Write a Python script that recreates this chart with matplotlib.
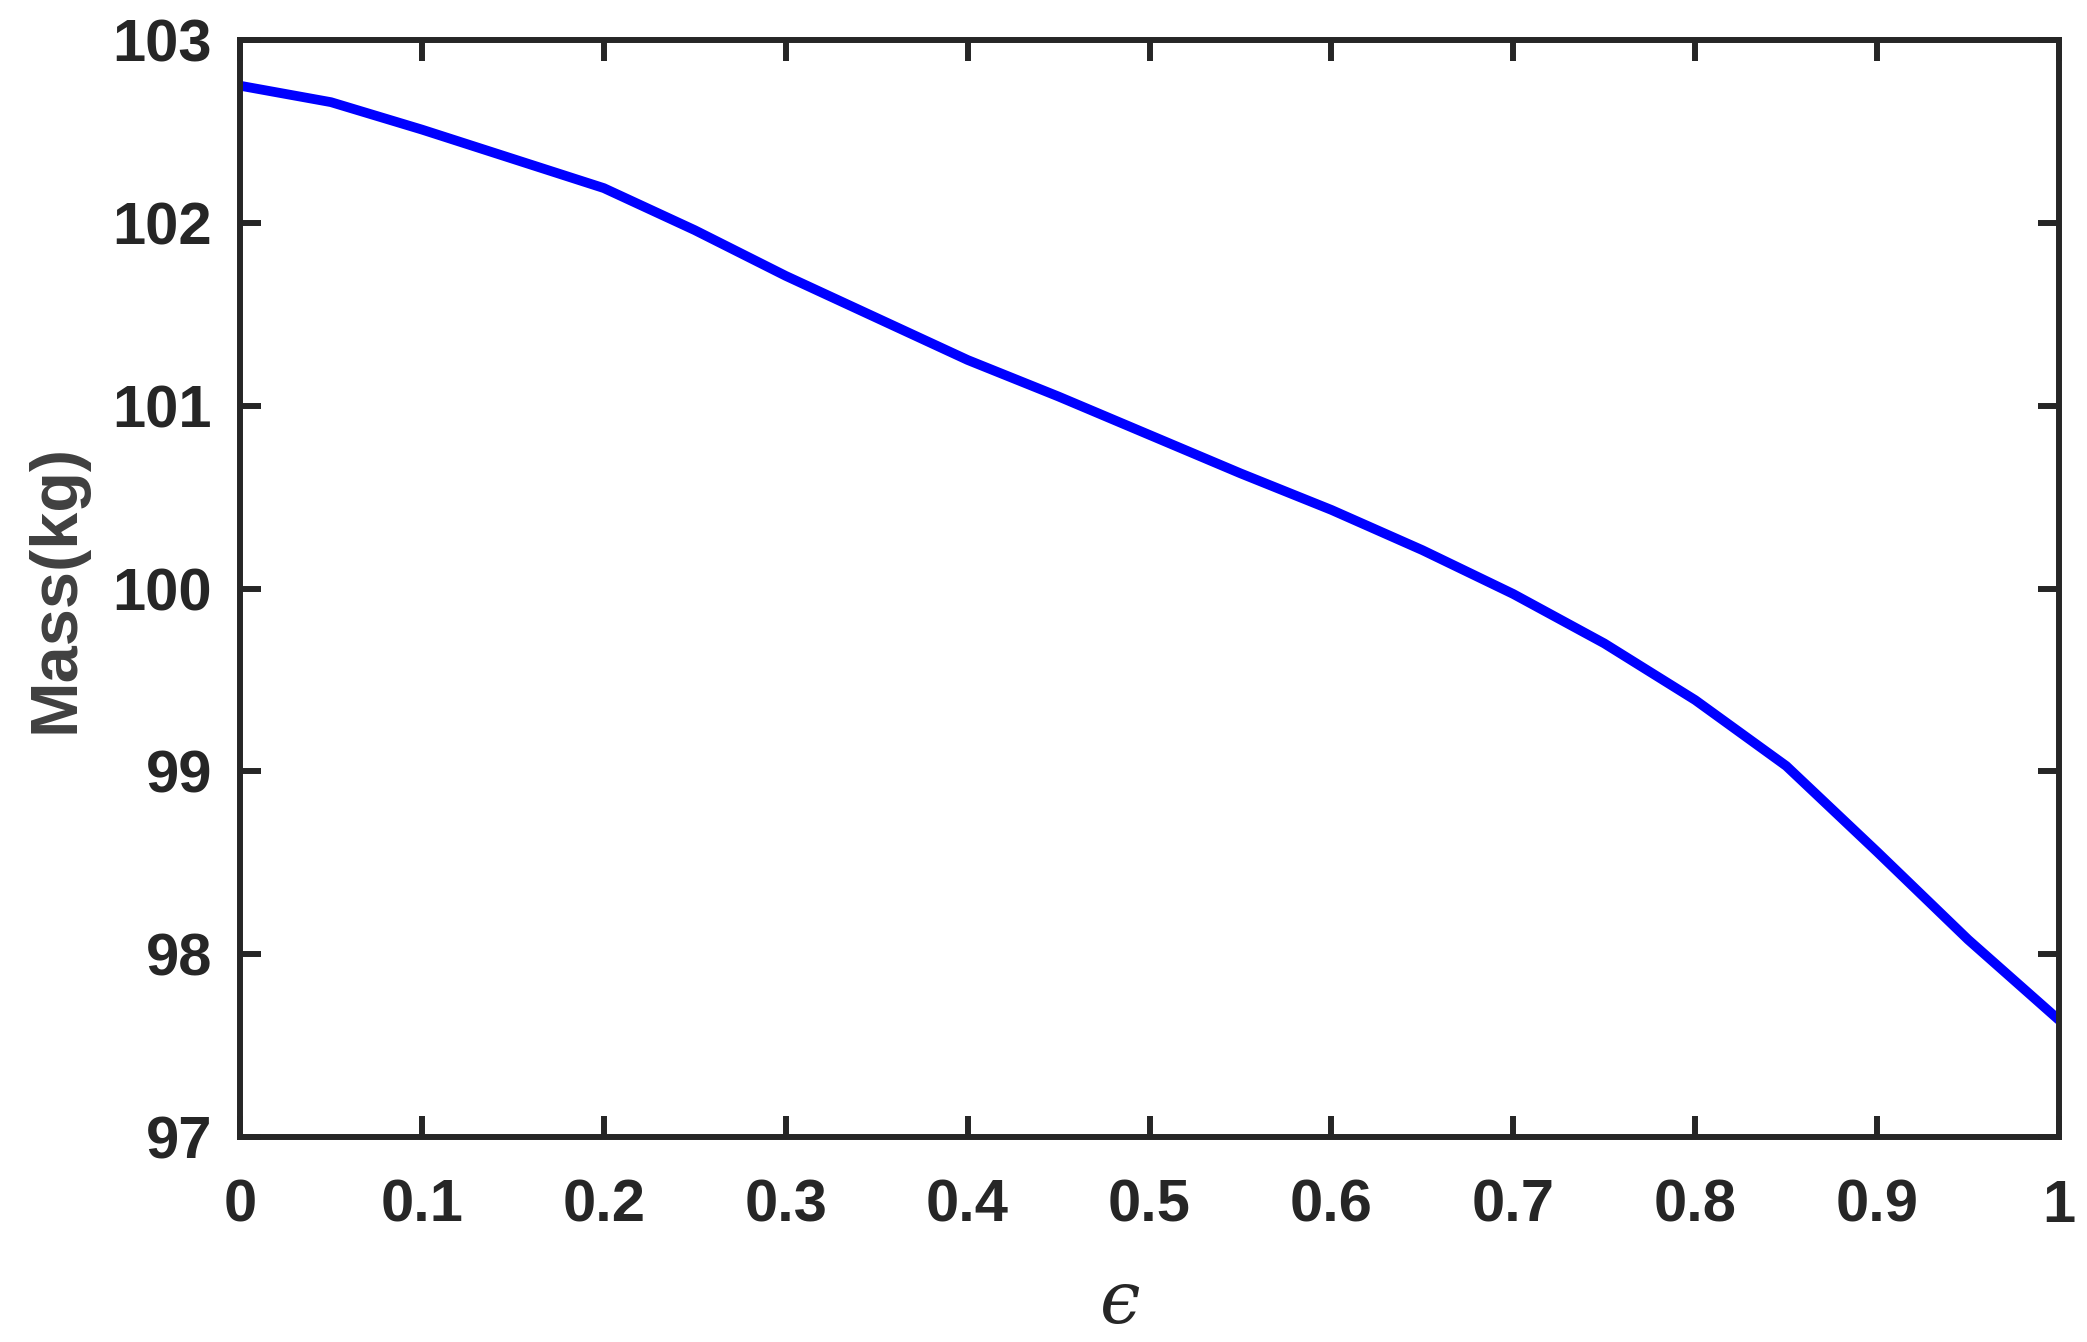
import matplotlib
matplotlib.use("Agg")
import matplotlib.pyplot as plt

# values
epsilon = [0.0, 0.05, 0.1, 0.15, 0.2, 0.25, 0.3, 0.35, 0.4, 0.45, 0.5,
           0.55, 0.6, 0.65, 0.7, 0.75, 0.8, 0.85, 0.9, 0.95, 1.0]
mass = [102.75, 102.66, 102.51, 102.35, 102.19, 101.96, 101.71, 101.48,
        101.25, 101.05, 100.84, 100.63, 100.43, 100.21, 99.97, 99.70,
        99.39, 99.03, 98.56, 98.08, 97.64]
x_ticks = [0, 0.1, 0.2, 0.3, 0.4, 0.5, 0.6, 0.7, 0.8, 0.9, 1]
x_tick_labels = ["0", "0.1", "0.2", "0.3", "0.4", "0.5", "0.6", "0.7", "0.8", "0.9", "1"]
y_ticks = [97, 98, 99, 100, 101, 102, 103]

plt.rcParams['font.family'] = ['Liberation Sans', 'DejaVu Sans']

fig = plt.figure(figsize=(20.87, 13.42), dpi=100)
ax = fig.add_axes([0.115, 0.1527, 0.8716, 0.8175])

ax.plot(epsilon, mass, color='#0000ff', linewidth=7, solid_capstyle='butt')

ax.set_xlim(0, 1)
ax.set_ylim(97, 103)
ax.set_xticks(x_ticks)
ax.set_xticklabels(x_tick_labels)
ax.set_yticks(y_ticks)

for s in ax.spines.values():
    s.set_linewidth(4.3)
    s.set_color('#262626')
ax.tick_params(direction='in', length=15, width=4.3, color='#262626',
               top=True, right=True, labelsize=43, labelcolor='#262626')
ax.tick_params(axis='x', pad=30)
ax.tick_params(axis='y', pad=20)
for lbl in ax.get_xticklabels() + ax.get_yticklabels():
    lbl.set_fontweight('bold')

ax.set_ylabel("Mass(kg)", fontsize=48, fontweight='bold', color='#404040', labelpad=18)
# x label: lunate epsilon, placed by its baseline
ax.text(0.484, -0.1696, "\u03f5", transform=ax.transAxes, ha='center', va='baseline',
        fontsize=52, style='italic', color='#262626',
        family=['DejaVu Serif', 'DejaVu Sans'])

fig.savefig("out.png", dpi=100)
